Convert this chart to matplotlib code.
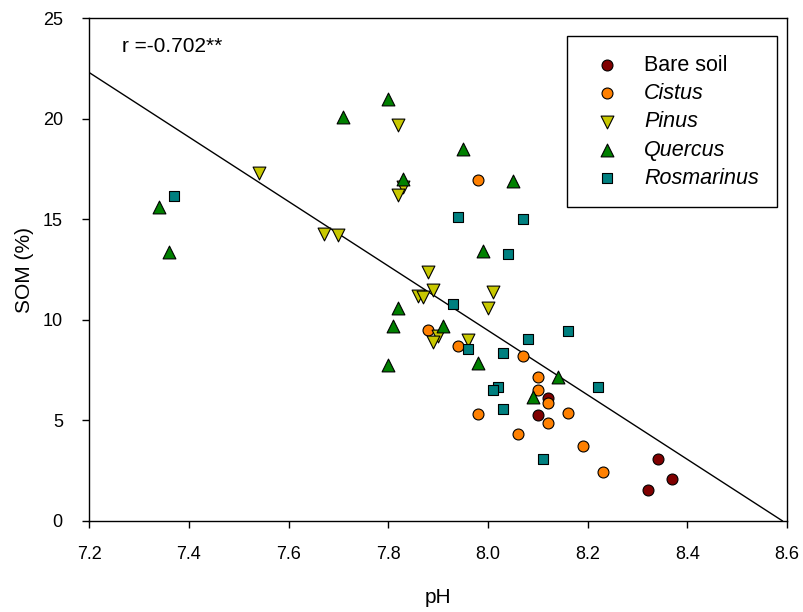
import numpy as np
import matplotlib
matplotlib.use("Agg")
import matplotlib.pyplot as plt

plt.rcParams['font.family'] = ['Liberation Sans', 'DejaVu Sans']

# data (pH, SOM %)
bare_ph = [8.32, 8.34, 8.37, 8.10, 8.12]
bare_som = [1.55, 3.07, 2.07, 5.27, 6.10]

cistus_ph = [7.88, 7.94, 8.07, 8.10, 8.10, 8.12, 7.98, 8.16, 8.12, 8.06, 8.19, 8.23, 7.98]
cistus_som = [9.47, 8.71, 8.22, 7.15, 6.52, 5.86, 5.31, 5.34, 4.86, 4.34, 3.70, 2.42, 16.97]

pinus_ph = [7.82, 7.54, 7.83, 7.82, 7.67, 7.70, 7.88, 7.89, 7.86, 7.87, 8.01, 8.00, 7.90, 7.89, 7.96]
pinus_som = [19.67, 17.33, 16.62, 16.22, 14.26, 14.21, 12.37, 11.49, 11.19, 11.16, 11.38, 10.61, 9.20, 8.89, 9.00]

quercus_ph = [7.80, 7.71, 7.83, 7.34, 7.95, 8.05, 7.36, 7.82, 7.81, 7.80, 7.99, 7.91, 7.98, 8.14, 8.09]
quercus_som = [20.98, 20.11, 16.99, 15.61, 18.51, 16.92, 13.37, 10.61, 9.67, 7.76, 13.40, 9.67, 7.85, 7.16, 6.15]

rosm_ph = [7.37, 7.94, 8.07, 8.04, 7.93, 8.16, 8.08, 8.03, 7.96, 8.02, 8.01, 8.22, 8.03, 8.11]
rosm_som = [16.18, 15.11, 15.02, 13.27, 10.78, 9.45, 9.04, 8.37, 8.54, 6.65, 6.52, 6.67, 5.57, 3.08]

# regression line SOM = intercept + slope * pH
slope = -16.04
intercept = 137.79
r_text = "r =-0.702**"

fig = plt.figure(figsize=(8.04, 6.12), dpi=100)
ax = fig.add_axes([0.111, 0.149, 0.868, 0.821])

x_end = -intercept / slope
xl = np.linspace(7.2, x_end, 50)
ax.plot(xl, intercept + slope * xl, color='black', lw=1.0, zorder=1)

ms = 62
tri = 85
ax.scatter(bare_ph, bare_som, s=ms, marker='o', c='#800000', edgecolors='black', linewidths=0.8, label='Bare soil', zorder=3)
ax.scatter(cistus_ph, cistus_som, s=ms, marker='o', c='#FF8000', edgecolors='black', linewidths=0.8, label='Cistus', zorder=3)
ax.scatter(pinus_ph, pinus_som, s=tri, marker='v', c='#C8C800', edgecolors='black', linewidths=0.8, label='Pinus', zorder=3)
ax.scatter(quercus_ph, quercus_som, s=tri, marker='^', c='#008000', edgecolors='black', linewidths=0.8, label='Quercus', zorder=3)
ax.scatter(rosm_ph, rosm_som, s=ms, marker='s', c='#008080', edgecolors='black', linewidths=0.8, label='Rosmarinus', zorder=3)

ax.text(7.265, 23.6, r_text, fontsize=15, va='center', ha='left')

ax.set_xlim(7.2, 8.6)
ax.set_ylim(0, 25)
ax.set_xticks(np.arange(7.2, 8.61, 0.2))
ax.set_xticklabels([f"{v:.1f}" for v in np.arange(7.2, 8.61, 0.2)])
ax.set_yticks([0, 5, 10, 15, 20, 25])
ax.tick_params(direction='out', length=5, width=1, labelsize=13)
ax.tick_params(axis='x', pad=13)
ax.tick_params(axis='y', pad=14)
for sp in ax.spines.values():
    sp.set_linewidth(1.0)

ax.set_xlabel('pH', fontsize=15, labelpad=18)
ax.set_ylabel('SOM (%)', fontsize=15, labelpad=6)

leg = ax.legend(loc='upper right', bbox_to_anchor=(0.986, 0.964), fontsize=15.5,
                frameon=True, fancybox=False, edgecolor='black', framealpha=1,
                borderpad=0.85, labelspacing=0.34, handlelength=2.0,
                handletextpad=0.74, borderaxespad=0)
leg.get_frame().set_linewidth(1.0)
for t in leg.get_texts()[1:]:
    t.set_style('italic')

fig.savefig('out.png', dpi=100)
